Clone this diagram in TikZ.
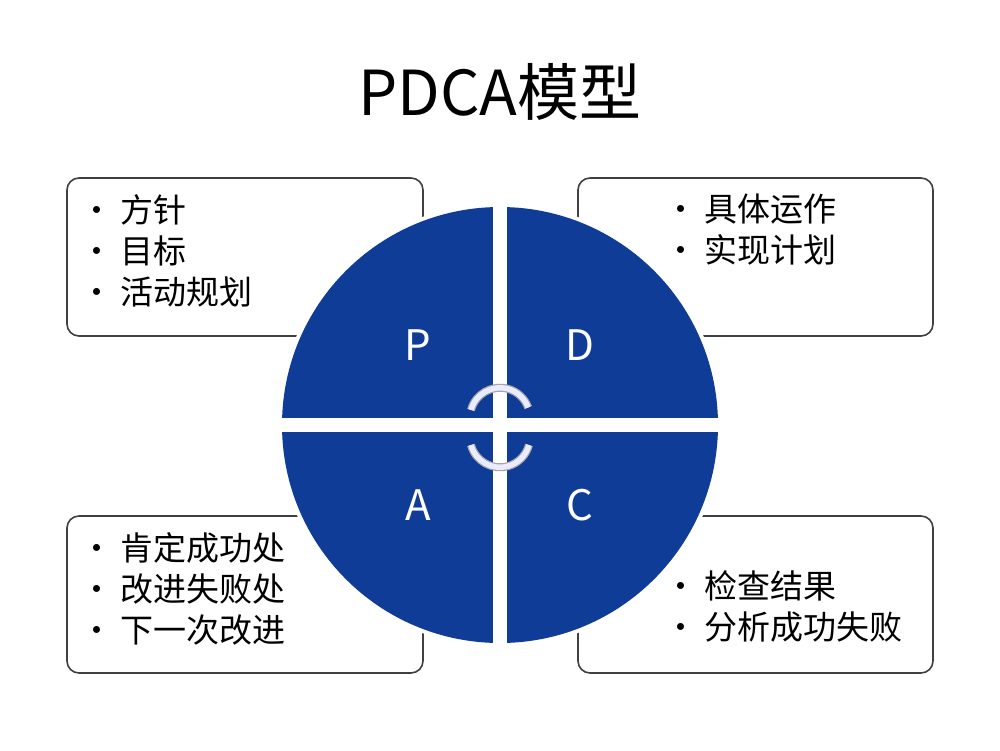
\documentclass[tikz,border=0pt]{standalone}
\usepackage{fontspec}
\setmainfont{Noto Sans CJK SC}
\newfontfamily\bold{Noto Sans CJK SC Medium}
\definecolor{pd}{HTML}{0F3C96}
\begin{document}
\begin{tikzpicture}[x=1pt,y=-1pt,
  box/.style={draw=black!75,line width=1.6pt,rounded corners=12pt},
  lbl/.style={text=white,font=\fontsize{42}{42}\selectfont},
  item/.style={anchor=west,font=\fontsize{33}{41}\selectfont,align=left,inner sep=0pt},
  ring/.style={line width=8pt,draw=gray!70},
  ringin/.style={line width=5.5pt,draw=blue!8!white}]
\fill[white] (0,0) rectangle (1000,750);
\useasboundingbox (0,0) rectangle (1000,750);
\node[font=\fontsize{62}{62}\selectfont] (title) at (500,92) {PDCA模型};
\draw[box] (67,178) rectangle (423,336);
\draw[box] (578,178) rectangle (933,336);
\draw[box] (67,516) rectangle (423,673);
\draw[box] (578,516) rectangle (933,673);
\fill[white] (500,425) circle (222);
\fill[pd] (500,425) circle (218);
\fill[white] (493,200) rectangle (507,650);
\fill[white] (275,418) rectangle (725,432);
\node[lbl] (p) at (418,345) {P};
\node[lbl] (d) at (580,345) {D};
\node[lbl] (a) at (418,505) {A};
\node[lbl] (c) at (580,505) {C};
\draw[ring] (471,410) arc (195:340:30);
\draw[ringin] (471,410) arc (195:340:30);
\draw[ring] (471,445) arc (165:15:30);
\draw[ringin] (471,445) arc (165:15:30);
\node[item] (tl) at (80,251) {• 方针\\• 目标\\• 活动规划};
\node[item] (tr) at (664,230) {• 具体运作\\• 实现计划};
\node[item] (bl) at (80,589) {• 肯定成功处\\• 改进失败处\\• 下一次改进};
\node[item] (br) at (664,606) {• 检查结果\\• 分析成功失败};
\end{tikzpicture}
\end{document}
